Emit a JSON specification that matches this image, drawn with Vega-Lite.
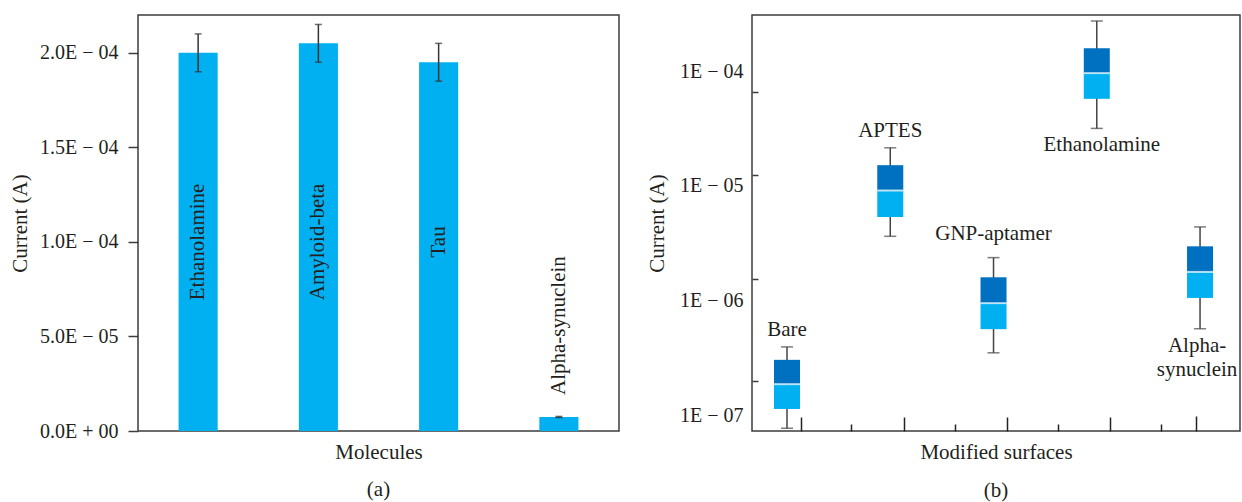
{
  "$schema": "https://vega.github.io/schema/vega-lite/v6.json",
  "padding": {"left": 8, "top": 14, "right": 0, "bottom": 0},
  "spacing": 25,
  "config": {
    "font": "Liberation Serif, Times New Roman, serif",
    "view": {"stroke": "#3c3c3c", "strokeWidth": 1.5},
    "text": {"font": "Liberation Serif, Times New Roman, serif"},
    "axis": {
      "labelFont": "Liberation Serif, Times New Roman, serif",
      "titleFont": "Liberation Serif, Times New Roman, serif",
      "labelFontSize": 20,
      "titleFontSize": 21,
      "titleFontWeight": "normal",
      "labelColor": "#231f20",
      "titleColor": "#231f20",
      "grid": false,
      "domain": false,
      "tickColor": "#3c3c3c",
      "tickWidth": 1.5
    },
    "title": {"font": "Liberation Serif, Times New Roman, serif", "fontSize": 21, "fontWeight": "normal", "color": "#231f20"}
  },
  "hconcat": [
    {
      "title": {"text": "(a)", "orient": "bottom", "offset": 17},
      "width": 481,
      "height": 416,
      "data": {
        "values": [
          {"molecule": "Ethanolamine", "current": 2.0e-4, "err": 1.0e-5},
          {"molecule": "Amyloid-beta", "current": 2.05e-4, "err": 1.0e-5},
          {"molecule": "Tau", "current": 1.95e-4, "err": 1.0e-5},
          {"molecule": "Alpha-synuclein", "current": 7.4e-6, "err": 3e-7}
        ]
      },
      "encoding": {
        "x": {
          "field": "molecule",
          "type": "nominal",
          "sort": null,
          "scale": {"paddingInner": 0.675, "paddingOuter": 0.3375},
          "axis": {"title": "Molecules", "labels": false, "ticks": false, "titlePadding": 10}
        }
      },
      "layer": [
        {
          "mark": {"type": "bar", "color": "#00B0F0"},
          "encoding": {
            "y": {
              "field": "current",
              "type": "quantitative",
              "title": "Current (A)",
              "scale": {"domain": [0, 2.2e-4], "nice": false},
              "axis": {
                "values": [0, 5e-5, 1e-4, 1.5e-4, 2e-4],
                "labelExpr": "replace(replace(format(datum.value, '.1e'), 'e-', 'E − 0'), 'e+', 'E + 0')",
                "tickSize": 10,
                "labelPadding": 10,
                "titlePadding": 9
              }
            }
          }
        },
        {
          "mark": {
            "type": "errorbar",
            "ticks": {"size": 7, "thickness": 1.5, "color": "#333333"},
            "rule": {"strokeWidth": 1.5, "color": "#333333"}
          },
          "encoding": {
            "y": {"field": "current", "type": "quantitative", "title": "Current (A)"},
            "yError": {"field": "err"}
          }
        },
        {
          "transform": [{"filter": "datum.molecule !== 'Alpha-synuclein'"}],
          "mark": {"type": "text", "angle": 270, "align": "center", "baseline": "middle", "fontSize": 21, "color": "#231f20"},
          "encoding": {
            "y": {"datum": 1.0e-4, "type": "quantitative"},
            "text": {"field": "molecule"}
          }
        },
        {
          "transform": [{"filter": "datum.molecule === 'Alpha-synuclein'"}],
          "mark": {"type": "text", "angle": 270, "align": "left", "baseline": "middle", "dx": 22, "fontSize": 21, "color": "#231f20"},
          "encoding": {
            "y": {"field": "current", "type": "quantitative"},
            "text": {"field": "molecule"}
          }
        }
      ]
    },
    {
      "title": {"text": "(b)", "orient": "bottom", "offset": 17},
      "width": 488,
      "height": 416,
      "data": {
        "values": [
          {"surface": "Bare", "low": 7.67e-8, "q1": 1.13e-7, "median": 1.86e-7, "q3": 3.03e-7, "high": 3.93e-7, "label": "Bare"},
          {"surface": "APTES", "low": 3.62e-6, "q1": 5.33e-6, "median": 9.08e-6, "q3": 1.51e-5, "high": 2.14e-5, "label": "APTES"},
          {"surface": "GNP-aptamer", "low": 3.49e-7, "q1": 5.61e-7, "median": 9.46e-7, "q3": 1.59e-6, "high": 2.36e-6, "label": "GNP-aptamer"},
          {"surface": "Ethanolamine", "low": 3.16e-5, "q1": 5.72e-5, "median": 9.59e-5, "q3": 1.58e-4, "high": 2.73e-4, "label": "Ethanolamine"},
          {"surface": "Alpha-synuclein", "low": 5.66e-7, "q1": 1.05e-6, "median": 1.77e-6, "q3": 2.96e-6, "high": 4.37e-6, "label": "Alpha-\nsynuclein"}
        ]
      },
      "resolve": {"axis": {"x": "independent"}},
      "layer": [
        {
          "mark": {"type": "rule", "color": "#444444", "strokeWidth": 1.5},
          "encoding": {
            "x": {
              "field": "surface",
              "type": "nominal",
              "sort": null,
              "scale": {"type": "point", "padding": 0.363, "align": 0.467},
              "axis": {
                "orient": "bottom",
                "title": "Modified surfaces",
                "labels": false,
                "values": ["Bare", "APTES", "GNP-aptamer", "Ethanolamine"],
                "tickSize": -14,
                "tickOffset": 13.5,
                "tickColor": "#222222",
                "titlePadding": 10
              }
            },
            "y": {
              "field": "low",
              "type": "quantitative",
              "title": "Current (A)",
              "scale": {"type": "log", "domain": [7.26e-8, 3.08e-4], "nice": false},
              "axis": {
                "values": [1e-4, 1e-5, 1e-6, 1e-7, 6.6e-5, 1.23e-5, 1.55e-6, 2.0e-7],
                "labelExpr": "abs(log(datum.value) / LN10 - round(log(datum.value) / LN10)) < 0.001 ? '1E − 0' + (-round(log(datum.value) / LN10)) : ''",
                "tickOpacity": {"condition": {"test": "abs(log(datum.value) / LN10 - round(log(datum.value) / LN10)) < 0.001", "value": 0}, "value": 1},
                "tickSize": -6,
                "labelPadding": 15,
                "titlePadding": 12
              }
            },
            "y2": {"field": "high"}
          }
        },
        {
          "mark": {"type": "tick", "color": "#444444", "thickness": 1.5, "size": 12},
          "encoding": {
            "x": {
              "field": "surface",
              "type": "nominal",
              "sort": null,
              "axis": {
                "orient": "bottom",
                "title": null,
                "labels": false,
                "values": ["APTES", "GNP-aptamer", "Ethanolamine", "Alpha-synuclein"],
                "tickSize": -7,
                "tickOffset": -39,
                "tickColor": "#222222"
              }
            },
            "y": {"field": "low", "type": "quantitative"}
          }
        },
        {
          "mark": {"type": "tick", "color": "#444444", "thickness": 1.5, "size": 12},
          "encoding": {
            "x": {
              "field": "surface",
              "type": "nominal",
              "sort": null,
              "axis": {
                "orient": "bottom",
                "title": null,
                "labels": false,
                "values": ["Alpha-synuclein"],
                "tickSize": -15,
                "tickOffset": -4.5,
                "tickColor": "#222222"
              }
            },
            "y": {"field": "high", "type": "quantitative"}
          }
        },
        {
          "mark": {"type": "bar", "color": "#00B0F0", "width": 26},
          "encoding": {
            "x": {"field": "surface", "type": "nominal", "sort": null, "axis": null},
            "y": {"field": "q1", "type": "quantitative"},
            "y2": {"field": "median"}
          }
        },
        {
          "mark": {"type": "bar", "color": "#0070C0", "width": 26},
          "encoding": {
            "x": {"field": "surface", "type": "nominal", "sort": null, "axis": null},
            "y": {"field": "median", "type": "quantitative"},
            "y2": {"field": "q3"}
          }
        },
        {
          "mark": {"type": "tick", "color": "#ffffff", "thickness": 2, "size": 26},
          "encoding": {
            "x": {"field": "surface", "type": "nominal", "sort": null, "axis": null},
            "y": {"field": "median", "type": "quantitative"}
          }
        },
        {
          "transform": [{"filter": "indexof(['Bare', 'APTES'], datum.surface) >= 0"}],
          "mark": {"type": "text", "baseline": "alphabetic", "align": "center", "dy": -11, "fontSize": 21, "color": "#231f20"},
          "encoding": {
            "x": {"field": "surface", "type": "nominal", "sort": null, "axis": null},
            "y": {"field": "high", "type": "quantitative"},
            "text": {"field": "label"}
          }
        },
        {
          "transform": [{"filter": "datum.surface === 'GNP-aptamer'"}],
          "mark": {"type": "text", "baseline": "alphabetic", "align": "center", "dy": -18, "fontSize": 21, "color": "#231f20"},
          "encoding": {
            "x": {"field": "surface", "type": "nominal", "sort": null, "axis": null},
            "y": {"field": "high", "type": "quantitative"},
            "text": {"field": "label"}
          }
        },
        {
          "transform": [{"filter": "datum.surface === 'Ethanolamine'"}],
          "mark": {"type": "text", "baseline": "top", "align": "center", "dx": 5, "dy": 6, "fontSize": 21, "color": "#231f20"},
          "encoding": {
            "x": {"field": "surface", "type": "nominal", "sort": null, "axis": null},
            "y": {"field": "low", "type": "quantitative"},
            "text": {"field": "label"}
          }
        },
        {
          "transform": [{"filter": "datum.surface === 'Alpha-synuclein'"}],
          "mark": {"type": "text", "baseline": "top", "align": "center", "dx": -3, "dy": 6, "fontSize": 21, "lineHeight": 24, "lineBreak": "\n", "color": "#231f20"},
          "encoding": {
            "x": {"field": "surface", "type": "nominal", "sort": null, "axis": null},
            "y": {"field": "low", "type": "quantitative"},
            "text": {"field": "label"}
          }
        }
      ]
    }
  ]
}
